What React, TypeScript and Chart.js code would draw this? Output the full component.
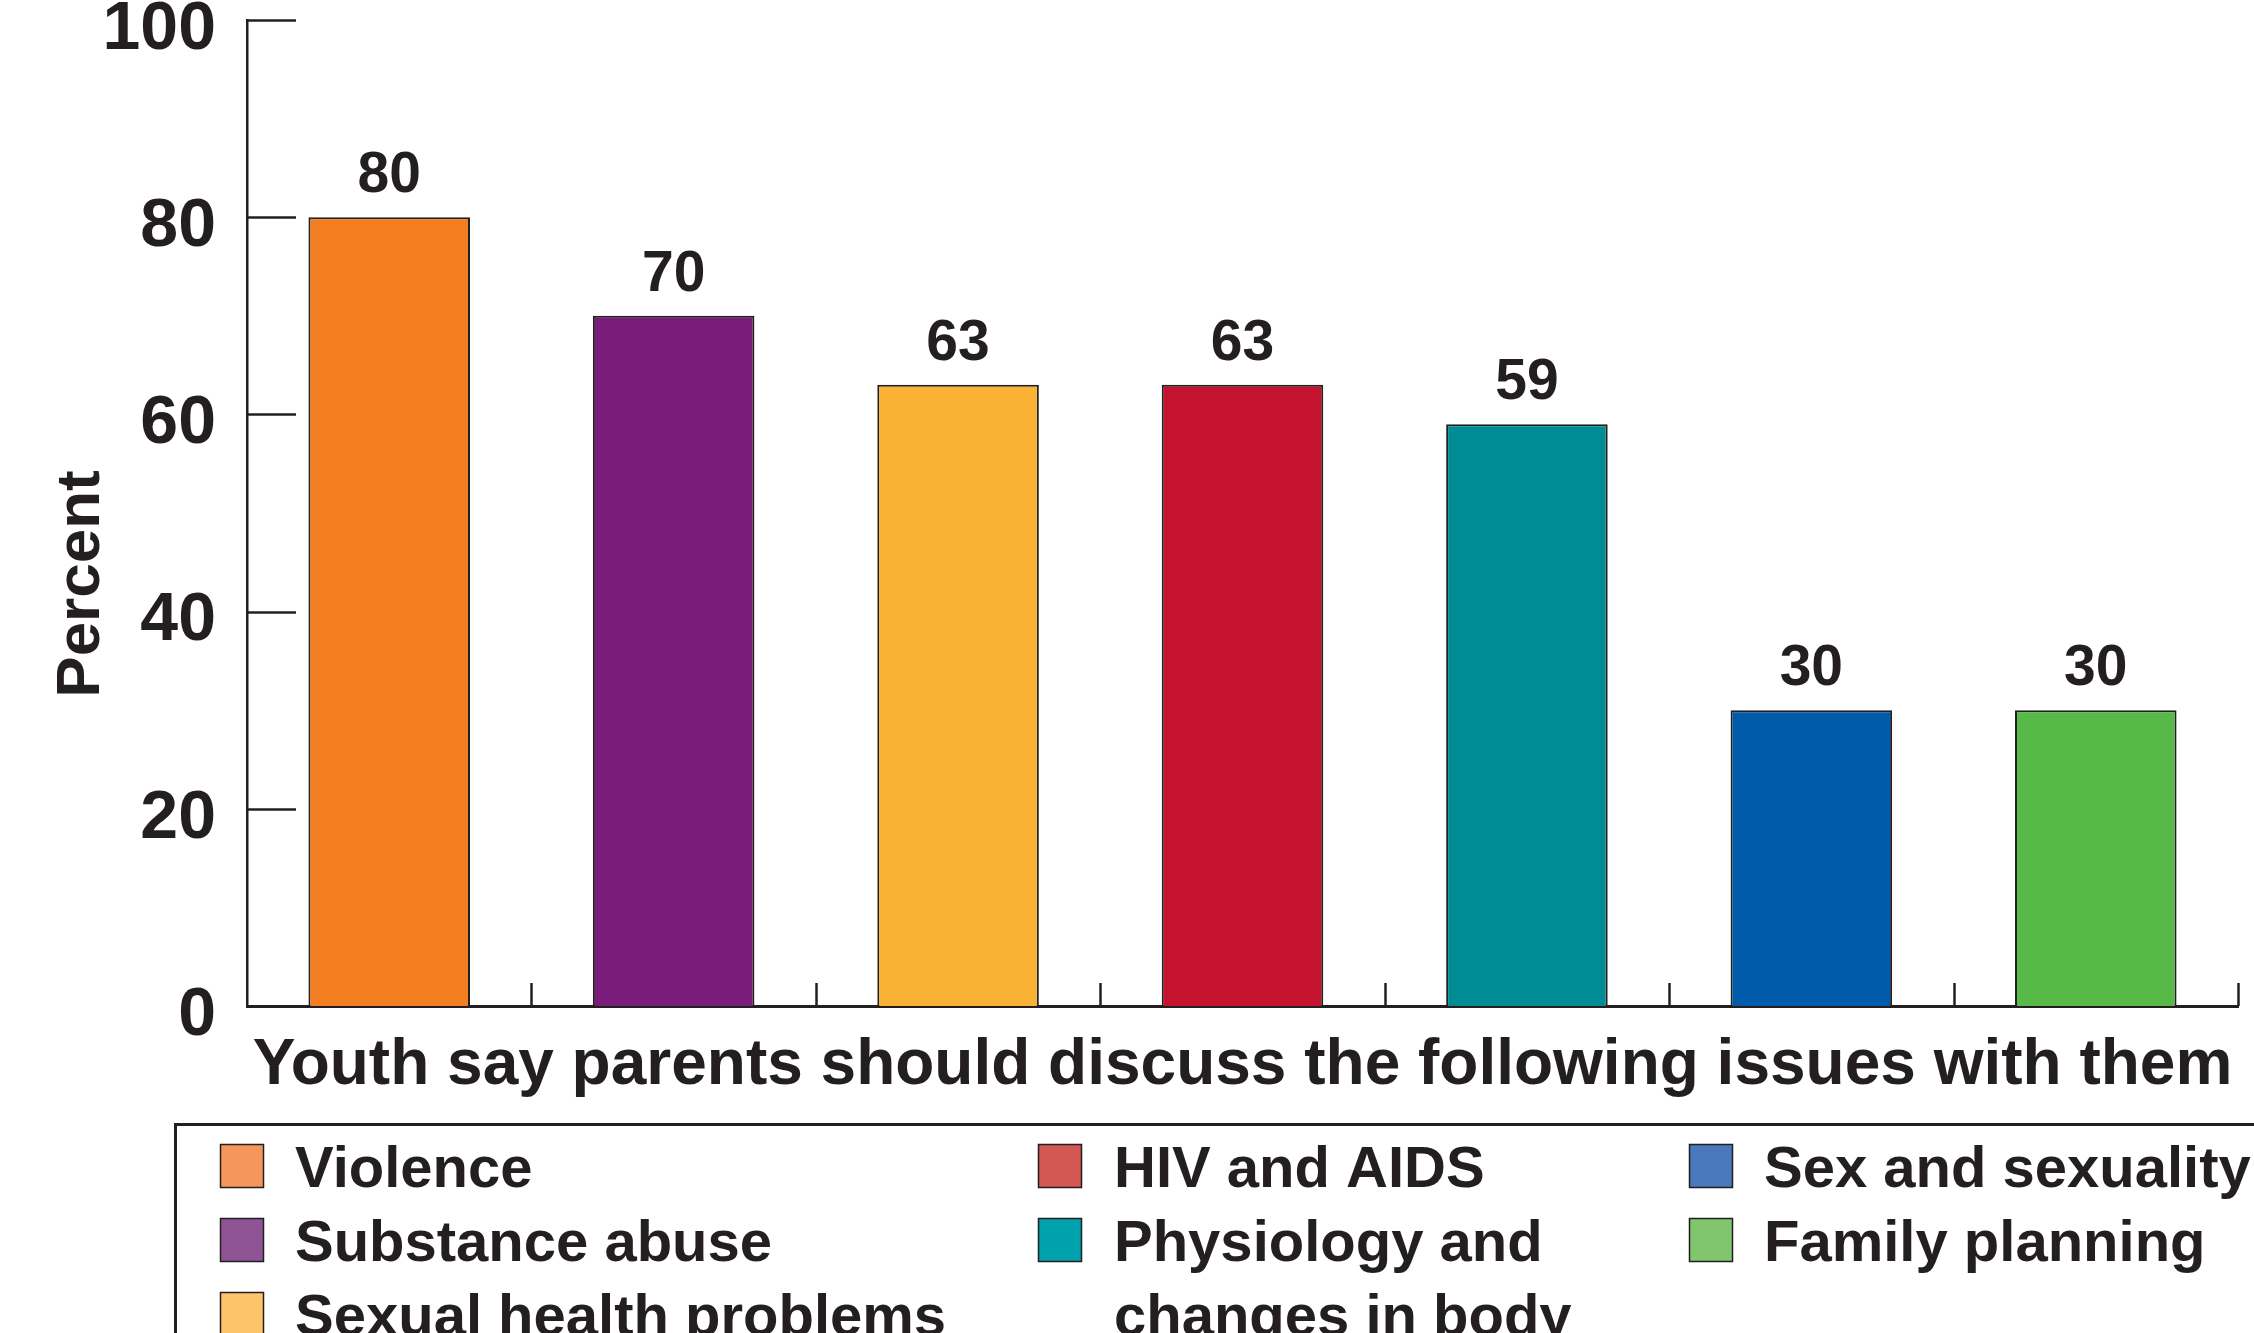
import React, { useEffect, useRef } from "react";
import { Chart, registerables } from "chart.js";

Chart.register(...registerables);

// ---- Data ----
const categories = [
  "Violence",
  "Substance abuse",
  "Sexual health problems",
  "HIV and AIDS",
  "Physiology and changes in body",
  "Sex and sexuality",
  "Family planning",
];
const values = [80, 70, 63, 63, 59, 30, 30];
const barColors = ["#F37E21", "#7A1C7A", "#F9B233", "#C4122F", "#008C95", "#005BAA", "#57B947"];
const legendColors = ["#F5975A", "#8E5496", "#FEC46A", "#D35752", "#00A3AD", "#4A78BD", "#82C56F"];
const yTickValues = [0, 20, 40, 60, 80, 100];
const xAxisTitle = "Youth say parents should discuss the following issues with them";
const yAxisTitle = "Percent";
const legendColumns = [[0, 1, 2], [3, 4], [5, 6]];

// ---- Style ----
const INK = "#231F20";
const FONT = "'Liberation Sans', Arial, Helvetica, sans-serif";
const W = 2254;
const H = 1333;
const PLOT_LEFT = 247;
const PLOT_TOP = 20;
const PLOT_BOTTOM = 1006;
const PLOT_RIGHT = 2238;

function wrapText(ctx: CanvasRenderingContext2D, text: string, maxWidth: number): string[] {
  const words = text.split(" ");
  const lines: string[] = [];
  let cur = "";
  for (const w of words) {
    const test = cur ? cur + " " + w : w;
    if (cur && ctx.measureText(test).width > maxWidth) {
      lines.push(cur);
      cur = w;
    } else {
      cur = test;
    }
  }
  if (cur) lines.push(cur);
  return lines;
}

const decorPlugin = {
  id: "decor",
  afterDatasetsDraw(chart: any) {
    const ctx: CanvasRenderingContext2D = chart.ctx;
    const xs = chart.scales.x;
    const ys = chart.scales.y;
    const area = chart.chartArea;
    ctx.save();
    ctx.strokeStyle = INK;
    ctx.lineWidth = 2.5;
    // y ticks drawn inward
    yTickValues.forEach((v) => {
      const py = Math.round(ys.getPixelForValue(v)) + 0.5;
      ctx.beginPath();
      ctx.moveTo(area.left, py);
      ctx.lineTo(area.left + 49, py);
      ctx.stroke();
    });
    // x ticks at category boundaries, drawn inward
    const step = xs.getPixelForValue(1) - xs.getPixelForValue(0);
    for (let i = 0; i < categories.length; i++) {
      const px = Math.round(xs.getPixelForValue(i) + step / 2) + 0.5;
      ctx.beginPath();
      ctx.moveTo(px, area.bottom);
      ctx.lineTo(px, area.bottom - 23);
      ctx.stroke();
    }
    // value labels
    const meta = chart.getDatasetMeta(0);
    ctx.fillStyle = INK;
    ctx.font = `bold 57px ${FONT}`;
    ctx.textAlign = "center";
    ctx.textBaseline = "alphabetic";
    meta.data.forEach((bar: any, i: number) => {
      ctx.fillText(String(values[i]), bar.x, bar.y - 25);
    });
    // y axis title
    ctx.save();
    ctx.translate(99, 584);
    ctx.rotate(-Math.PI / 2);
    ctx.font = `bold 62px ${FONT}`;
    ctx.textAlign = "center";
    ctx.textBaseline = "alphabetic";
    ctx.fillText(yAxisTitle, 0, 0);
    ctx.restore();

    // legend
    ctx.lineWidth = 3;
    ctx.strokeRect(175.5, 1124.5, W, 400);
    const colX = [
      [220, 295],
      [1038, 1114],
      [1689, 1764],
    ];
    const rowBase = 1187;
    const rowStep = 74;
    const sw = 43;
    ctx.font = `bold 58px ${FONT}`;
    ctx.textAlign = "left";
    legendColumns.forEach((col, c) => {
      const maxW = c < colX.length - 1 ? colX[c + 1][0] - colX[c][1] - 20 : W - colX[c][1];
      let row = 0;
      col.forEach((idx) => {
        const lines = wrapText(ctx, categories[idx], maxW);
        const top = rowBase + row * rowStep - sw;
        ctx.fillStyle = legendColors[idx];
        ctx.fillRect(colX[c][0], top, sw, sw);
        ctx.lineWidth = 1.5;
        ctx.strokeStyle = INK;
        ctx.strokeRect(colX[c][0] + 0.5, top + 0.5, sw, sw);
        ctx.fillStyle = INK;
        lines.forEach((ln, k) => {
          ctx.fillText(ln, colX[c][1], rowBase + (row + k) * rowStep);
        });
        row += lines.length;
      });
    });
    ctx.restore();
  },
};

export default function App() {
  const canvasRef = useRef<HTMLCanvasElement | null>(null);

  useEffect(() => {
    const canvas = canvasRef.current;
    if (!canvas) return;
    const chart = new Chart(canvas, {
      type: "bar",
      data: {
        labels: categories,
        datasets: [
          {
            data: values,
            backgroundColor: barColors,
            borderColor: INK,
            borderWidth: 2,
            categoryPercentage: 1,
            barPercentage: 0.568,
          },
        ],
      },
      options: {
        responsive: false,
        animation: false,
        devicePixelRatio: 1,
        layout: { padding: { top: PLOT_TOP, right: W - PLOT_RIGHT, left: 0, bottom: 0 } },
        plugins: {
          legend: { display: false },
          tooltip: { enabled: false },
          title: { display: false },
        },
        scales: {
          x: {
            type: "category",
            offset: true,
            grid: { display: false, drawTicks: false },
            border: { display: true, color: INK, width: 3 },
            ticks: { display: false },
            title: {
              display: true,
              text: xAxisTitle,
              color: INK,
              font: { family: FONT, size: 64, weight: "bold" },
              padding: { top: 0, bottom: 228 },
            },
            afterFit(scale: any) {
              scale.height = H - PLOT_BOTTOM;
              scale.paddingLeft = 0;
              scale.paddingRight = 0;
            },
          },
          y: {
            min: 0,
            max: 100,
            grid: { display: false, drawTicks: false },
            border: { display: true, color: INK, width: 2.5 },
            afterBuildTicks(scale: any) {
              scale.ticks = yTickValues.map((v) => ({ value: v }));
            },
            ticks: {
              color: INK,
              padding: 31,
              labelOffset: 10,
              font: { family: FONT, size: 68, weight: "bold" },
            },
            afterFit(scale: any) {
              scale.width = PLOT_LEFT;
              scale.paddingTop = 0;
              scale.paddingBottom = 0;
            },
          },
        },
      },
      plugins: [decorPlugin],
    });
    return () => chart.destroy();
  }, []);

  return (
    <div style={{ position: "fixed", left: 0, top: 0, width: W, height: H, background: "#fff", overflow: "hidden" }}>
      <canvas ref={canvasRef} width={W} height={H} style={{ display: "block" }} />
    </div>
  );
}
